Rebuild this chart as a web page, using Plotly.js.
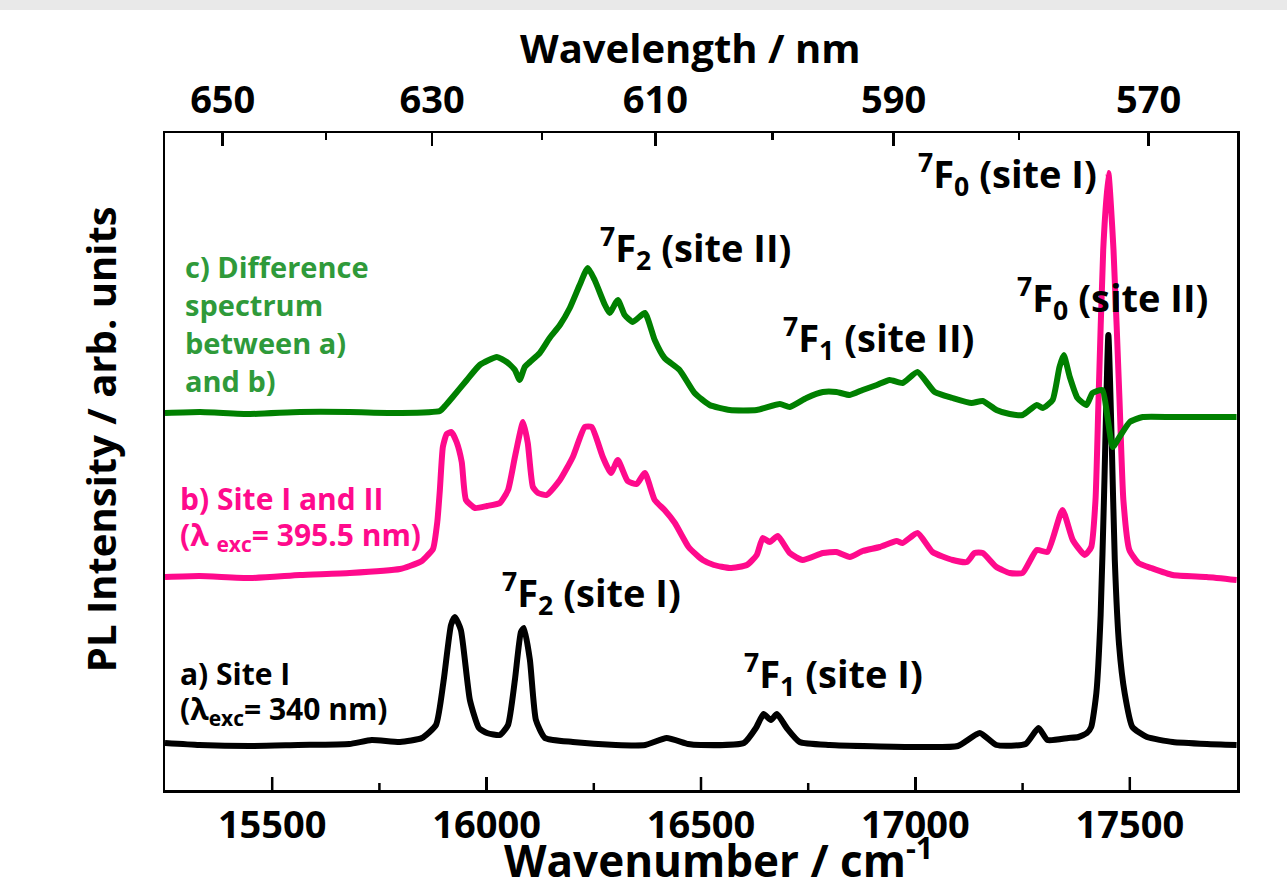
<!DOCTYPE html>
<html><head><meta charset="utf-8">
<script src="https://cdn.plot.ly/plotly-3.0.1.min.js"></script>
<style>
html,body{margin:0;padding:0;background:#e9e9e9;width:1287px;height:881px;overflow:hidden;}
#chart{position:absolute;left:0;top:10px;width:1287px;height:871px;background:#fff;}
#tickOverlay{position:absolute;left:0;top:10px;width:1287px;height:871px;pointer-events:none;z-index:10;}
</style>
</head><body><div id="chart"></div>
<svg id="tickOverlay" xmlns="http://www.w3.org/2000/svg" width="1287" height="871"></svg>
<script>
// ---- data (wavenumber in cm-1, intensity in arbitrary units) ----
const wnA = [15250,15330,15450,15560,15680,15732,15798,15849,15882,15900,15917,15926,15940,15961,15982,16001,16031,16050,16066,16080,16087,16101,16115,16136,16201,16301,16370,16420,16470,16499,16600,16628,16646,16663,16677,16700,16730,16800,17000,17099,17150,17189,17257,17287,17308,17357,17380,17400,17410,17422,17432,17440,17450,17458,17465,17475,17488,17506,17540,17600,17680,17749];
const intA = [2,0,-1,0,1,5,3,7,20,65,120,128,115,45,17,12,10,20,65,113,117,85,25,7,3,0,0,7,1,0,2,17,31,25,31,17,3,0,-2,-1,12,0,1,17,5,7,8,12,18,52,130,250,410,300,185,100,52,18,8,3,1,0];

const wnB = [15250,15330,15450,15565,15681,15798,15821,15849,15861,15875,15885,15891,15898,15907,15918,15930,15942,15952,15973,16001,16031,16050,16066,16085,16096,16108,16120,16140,16171,16201,16229,16245,16271,16290,16306,16329,16350,16369,16392,16415,16439,16471,16490,16504,16530,16567,16607,16630,16644,16660,16679,16707,16737,16784,16816,16847,16877,16917,16956,16970,17005,17040,17087,17120,17138,17157,17189,17220,17250,17283,17308,17343,17367,17395,17410,17420,17427,17438,17450,17462,17476,17485,17499,17520,17550,17600,17679,17749];
const intB = [0,1,-1,2,4,8,11,16,21,28,55,87,130,143,145,135,115,77,69,71,74,87,120,155,134,90,84,82,97,120,150,150,120,104,117,96,93,104,77,67,54,30,22,17,12,9,12,22,39,35,41,24,17,24,25,20,26,30,36,34,44,25,17,15,24,24,10,4,4,27,25,67,37,22,30,77,177,327,404,327,177,77,27,14,9,2,0,-3];

const wnC = [15250,15332,15448,15565,15681,15798,15891,15905,15921,15954,15984,16024,16047,16066,16077,16089,16101,16124,16147,16171,16194,16217,16236,16252,16276,16287,16306,16322,16341,16369,16392,16415,16450,16485,16520,16567,16630,16684,16707,16746,16784,16816,16847,16877,16910,16940,16970,17005,17045,17087,17131,17157,17189,17220,17250,17283,17297,17320,17336,17346,17360,17378,17399,17413,17436,17448,17460,17476,17500,17530,17600,17679,17749];
const intC = [0,1,-1,1,1,0,2,8,16,33,48,56,51,43,33,46,51,60,75,88,105,128,145,133,108,100,113,98,91,100,73,55,43,20,8,3,3,9,6,15,21,21,18,23,28,33,30,41,21,15,10,12,3,-1,-2,8,5,13,46,58,36,15,8,20,23,-4,-34,-24,-9,-4,-4,-4,-4];

const wnTicks = [15500,16000,16500,17000,17500];
const wnMinor = [15750,16250,16750,17250];
const wlTicks = [650,630,610,590,570];
const wlMinor = [640,620,600,580];

// ---- presentation ----
const OFFSET_A = 45, OFFSET_B = 213, OFFSET_C = 377;
const FONT = 'Open Sans, Noto Sans, sans-serif';
const PINK = '#ff0a8c', GREEN = '#008000', TXTGREEN = '#2f9a3a';
const XR = [15250,17750];
const YR = [0,657];
const MAJOR_LEN = 13, MINOR_LEN = 7;

function shift(arr, off){ return arr.map(v => v + off); }
const lineStyle = c => ({color:c, width:6, shape:'spline', smoothing:0.5});

const traces = [
  {x: wnB, y: shift(intB, OFFSET_B), mode:'lines', line:lineStyle(PINK), xaxis:'x', yaxis:'y', hoverinfo:'skip'},
  {x: wnA, y: shift(intA, OFFSET_A), mode:'lines', line:lineStyle('#000000'), xaxis:'x', yaxis:'y', hoverinfo:'skip'},
  {x: wnC, y: shift(intC, OFFSET_C), mode:'lines', line:lineStyle(GREEN), xaxis:'x', yaxis:'y', hoverinfo:'skip'},
  {x: XR, y:[-100,-100], mode:'lines', xaxis:'x2', yaxis:'y', hoverinfo:'skip', line:{width:0}},
  {x: XR, y:[-100,-100], mode:'lines', xaxis:'x4', yaxis:'y', hoverinfo:'skip', line:{width:0}}
];

const tickFont = {family:FONT, size:38, weight:'bold', color:'#000'};

function ann(text, x, y, size, color, xanchor){
  return {text, x, y, xref:'x', yref:'y', showarrow:false, xanchor: xanchor||'center', yanchor:'middle',
          font:{family:FONT, size, weight:'bold', color}};
}
function titleAnn(text, x, y, xshift, yshift, size, angle){
  return {text, x, y, xref:'paper', yref:'paper', xshift, yshift, showarrow:false,
          xanchor:'center', yanchor:'middle', textangle: angle||0,
          font:{family:FONT, size, weight:'bold', color:'#000'}};
}

const annotations = [
  ann('<sup>7</sup>F<sub>0</sub> (site I)', 17215, 616, 38, '#000'),
  ann('<sup>7</sup>F<sub>0</sub> (site II)', 17460, 492, 38, '#000'),
  ann('<sup>7</sup>F<sub>2</sub> (site II)', 16488, 542, 38, '#000'),
  ann('<sup>7</sup>F<sub>1</sub> (site II)', 16914, 452, 38, '#000'),
  ann('<sup>7</sup>F<sub>2</sub> (site I)', 16245, 197, 38, '#000'),
  ann('<sup>7</sup>F<sub>1</sub> (site I)', 16809, 116, 38, '#000'),
  ann('c) Difference', 15293, 524, 29, TXTGREEN, 'left'),
  ann('spectrum', 15293, 486, 29, TXTGREEN, 'left'),
  ann('between a)', 15293, 448, 29, TXTGREEN, 'left'),
  ann('and b)', 15293, 410, 29, TXTGREEN, 'left'),
  ann('b) Site I and II', 15280, 292, 30, PINK, 'left'),
  ann('(λ <sub>exc</sub>= 395.5 nm)', 15280, 254, 30, PINK, 'left'),
  ann('a) Site I', 15280, 117, 30, '#000', 'left'),
  ann('(λ<sub>exc</sub>= 340 nm)', 15280, 80, 30, '#000', 'left'),
  // axis titles
  titleAnn('Wavenumber / cm<sup>-1</sup>', 0.5166, 0, 0, -68, 44),
  titleAnn('Wavelength / nm', 0.4895, 1, 0, 86, 40),
  titleAnn('PL Intensity / arb. units', 0, 0.534, -65, 0, 40, -90)
];

const baseX = {range:XR, showgrid:false, zeroline:false, showline:true, linewidth:2.5, linecolor:'#000',
  ticks:'inside', tickwidth:2.5, tickcolor:'#000', tickmode:'array'};

const layout = {
  width:1287, height:871,
  margin:{l:165, r:50, t:123, b:91, pad:0},
  paper_bgcolor:'#ffffff', plot_bgcolor:'#ffffff',
  showlegend:false,
  font:{family:FONT, color:'#000'},
  xaxis:Object.assign({}, baseX, {
    tickvals:wnTicks, ticktext:wnTicks.map(String), ticklen:MAJOR_LEN,
    tickfont:tickFont, ticklabelstandoff:0
  }),
  xaxis2:Object.assign({}, baseX, {
    overlaying:'x', side:'top', anchor:'y',
    tickvals:wlTicks.map(l => 1e7/l), ticktext:wlTicks.map(String), ticklen:MAJOR_LEN,
    tickfont:tickFont, ticklabelstandoff:2
  }),
  xaxis4:Object.assign({}, baseX, {
    overlaying:'x', side:'top', anchor:'y',
    tickvals:wlMinor.map(l => 1e7/l), ticklen:MINOR_LEN, showticklabels:false
  }),
  yaxis:{
    range:YR, showgrid:false, zeroline:false,
    showline:true, linewidth:2.5, linecolor:'#000', mirror:true,
    ticks:'', showticklabels:false
  },
  annotations
};

const gd = document.getElementById('chart');
Plotly.newPlot(gd, traces, layout, {staticPlot:true, displayModeBar:false}).then(() => {
  // bottom-axis tick marks placed with Plotly's own x scale
  const xa = gd._fullLayout.xaxis, ya = gd._fullLayout.yaxis;
  const svg = document.getElementById('tickOverlay');
  const NS = 'http://www.w3.org/2000/svg';
  const yBottom = ya._offset + ya._length;
  function addTicks(vals, len){
    vals.forEach(v => {
      const px = xa._offset + xa.l2p(v);
      const ln = document.createElementNS(NS, 'line');
      ln.setAttribute('x1', px); ln.setAttribute('x2', px);
      ln.setAttribute('y1', yBottom); ln.setAttribute('y2', yBottom - len);
      ln.setAttribute('stroke', '#000'); ln.setAttribute('stroke-width', '2.5');
      svg.appendChild(ln);
    });
  }
  addTicks(wnTicks, MAJOR_LEN);
  addTicks(wnMinor, MINOR_LEN);
});
</script>
</body></html>
